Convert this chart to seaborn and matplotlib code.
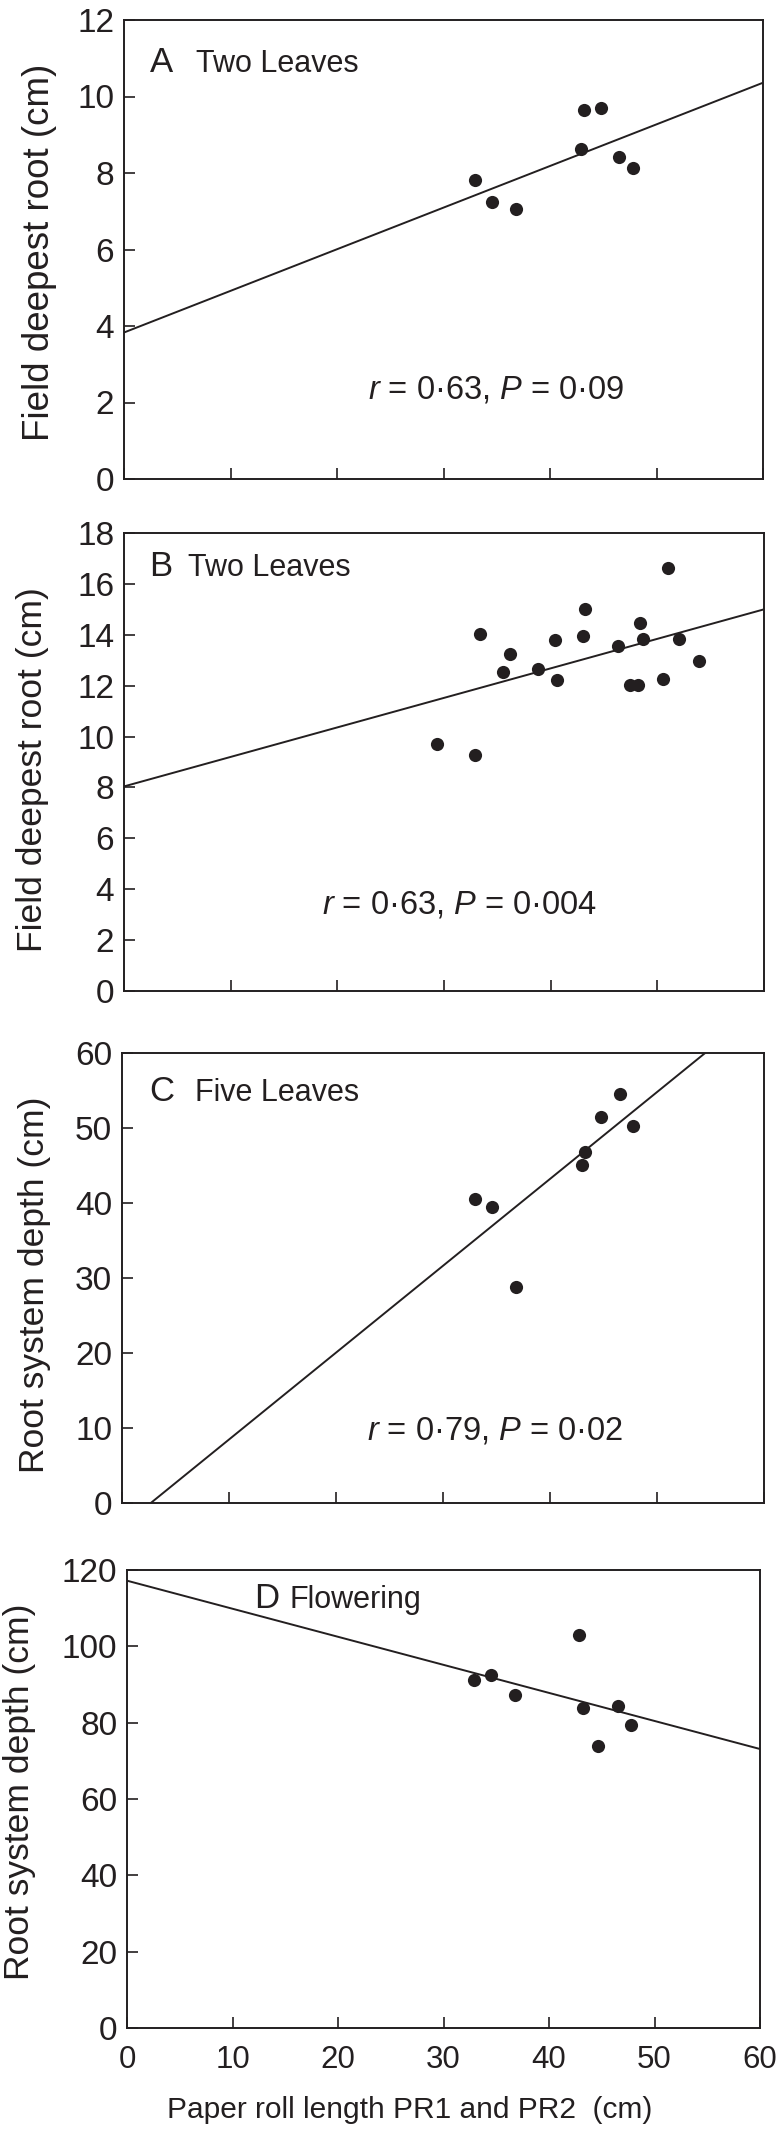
import matplotlib
matplotlib.use("Agg")
import matplotlib.pyplot as plt
import seaborn as sns
import pandas as pd

# ---------------- data ----------------
# Panel A: Two Leaves (field deepest root)
a_x = [32.96, 34.6, 36.8, 42.9, 43.2, 44.8, 46.5, 47.75]
a_y = [7.81, 7.25, 7.05, 8.64, 9.64, 9.69, 8.41, 8.14]
a_line_x = [0, 60]
a_line_y = [3.83, 10.36]

# Panel B: Two Leaves (field deepest root)
b_x = [29.3, 32.93, 33.35, 35.5, 36.19, 38.84, 40.42, 40.56, 43.02, 43.26,
       46.28, 47.44, 48.19, 48.33, 48.7, 50.51, 50.98, 52.05, 53.86]
b_y = [9.70, 9.28, 14.05, 12.52, 13.23, 12.64, 13.79, 12.22, 13.95, 15.02,
       13.56, 12.01, 12.03, 14.46, 13.83, 12.27, 16.62, 13.82, 12.95]
b_line_x = [0, 60]
b_line_y = [8.04, 15.0]

# Panel C: Five Leaves (root system depth)
c_x = [32.96, 34.58, 36.8, 42.96, 43.24, 44.81, 46.57, 47.78]
c_y = [40.53, 39.5, 28.8, 45.02, 46.76, 51.5, 54.58, 50.27]
c_line_x = [2.69, 54.5]
c_line_y = [0, 60]

# Panel D: Flowering (root system depth)
d_x = [32.9, 34.5, 36.75, 42.86, 43.19, 44.69, 46.52, 47.74]
d_y = [91.3, 92.6, 87.3, 103.1, 83.8, 73.8, 84.3, 79.3]
d_line_x = [0, 60]
d_line_y = [117.2, 73.1]

panel_letters = ["A", "B", "C", "D"]
panel_titles = ["Two Leaves", "Two Leaves", "Five Leaves", "Flowering"]
stats_texts = [r"$r$ = 0·63, $P$ = 0·09",
               r"$r$ = 0·63, $P$ = 0·004",
               r"$r$ = 0·79, $P$ = 0·02",
               None]
y_labels = ["Field deepest root (cm)", "Field deepest root (cm)",
            "Root system depth (cm)", "Root system depth (cm)"]
y_max = [12, 18, 60, 120]
y_step = [2, 2, 10, 20]
x_ticks = [0, 10, 20, 30, 40, 50, 60]
x_label = "Paper roll length PR1 and PR2  (cm)"

# ---------------- style ----------------
sns.set_theme(style="white")
plt.rcParams["font.family"] = ["Liberation Sans", "DejaVu Sans"]
plt.rcParams["mathtext.fontset"] = "custom"
plt.rcParams["mathtext.rm"] = "Liberation Sans"
plt.rcParams["mathtext.it"] = "Liberation Sans:italic"

W, H = 779, 2129
fig = plt.figure(figsize=(W / 100, H / 100), dpi=100)
fig.patch.set_facecolor("white")

# axes boxes in pixels: left, right, top, bottom
boxes = [(124, 763, 20, 479),
         (124, 764, 533, 991),
         (122, 764, 1053, 1503),
         (127, 760, 1570, 2028)]
label_pos = [(0.040, 0.887), (0.040, 0.906), (0.042, 0.894), (0.201, 0.917)]
title_off = [0.072, 0.060, 0.072, 0.056]
stat_pos = [(0.382, 0.176), (0.309, 0.170), (0.381, 0.140), None]
ylabel_px = [(40, 252, 26.5), (33, 770, 25.5), (35, 1285, 25.5), (20, 1792, 25.5)]

data = [(a_x, a_y, a_line_x, a_line_y),
        (b_x, b_y, b_line_x, b_line_y),
        (c_x, c_y, c_line_x, c_line_y),
        (d_x, d_y, d_line_x, d_line_y)]

ink = "#231f20"
for i, (l, r, t, b) in enumerate(boxes):
    ax = fig.add_axes([l / W, 1 - b / H, (r - l) / W, (b - t) / H])
    xs, ys, lx, ly = data[i]
    df = pd.DataFrame({"x": xs, "y": ys})
    dl = pd.DataFrame({"x": lx, "y": ly})
    sns.lineplot(data=dl, x="x", y="y", ax=ax, color=ink, linewidth=1.4)
    sns.scatterplot(data=df, x="x", y="y", ax=ax, color=ink, s=90,
                    edgecolor=ink, linewidth=0, zorder=3)
    ax.set_xlim(0, 60)
    ax.set_ylim(0, y_max[i])
    ax.set_xticks(x_ticks)
    ax.set_yticks(list(range(0, y_max[i] + 1, y_step[i])))
    ax.set_xlabel("")
    ax.set_ylabel("")
    for s in ax.spines.values():
        s.set_color(ink)
        s.set_linewidth(1.4)
        s.set_visible(True)
    ax.tick_params(axis="both", direction="in", length=8, width=1.2,
                   color=ink, labelcolor=ink, labelsize=24,
                   left=True, bottom=True, top=False, right=False)
    ax.tick_params(axis="y", pad=7)
    ax.tick_params(axis="x", pad=12, labelsize=22.5)
    if i < 3:
        ax.set_xticklabels([])
    ax.set_facecolor("white")
    lxp, lyp = label_pos[i]
    ax.text(lxp, lyp, panel_letters[i], transform=ax.transAxes,
            fontsize=25, color=ink, ha="left", va="baseline")
    ax.text(lxp + title_off[i], lyp, panel_titles[i], transform=ax.transAxes,
            fontsize=22, color=ink, ha="left", va="baseline")
    if stats_texts[i] is not None:
        sx, sy = stat_pos[i]
        ax.text(sx, sy, stats_texts[i], transform=ax.transAxes,
                fontsize=23.5, color=ink, ha="left", va="baseline")
    yx, yy, fs = ylabel_px[i]
    fig.text(yx / W, 1 - yy / H, y_labels[i], rotation=90, ha="center",
             va="center", fontsize=fs, color=ink)

fig.text(410 / W, 1 - 2110 / H, x_label, ha="center", va="center",
         fontsize=21.5, color=ink)

fig.savefig("out.png", dpi=100, facecolor="white")
